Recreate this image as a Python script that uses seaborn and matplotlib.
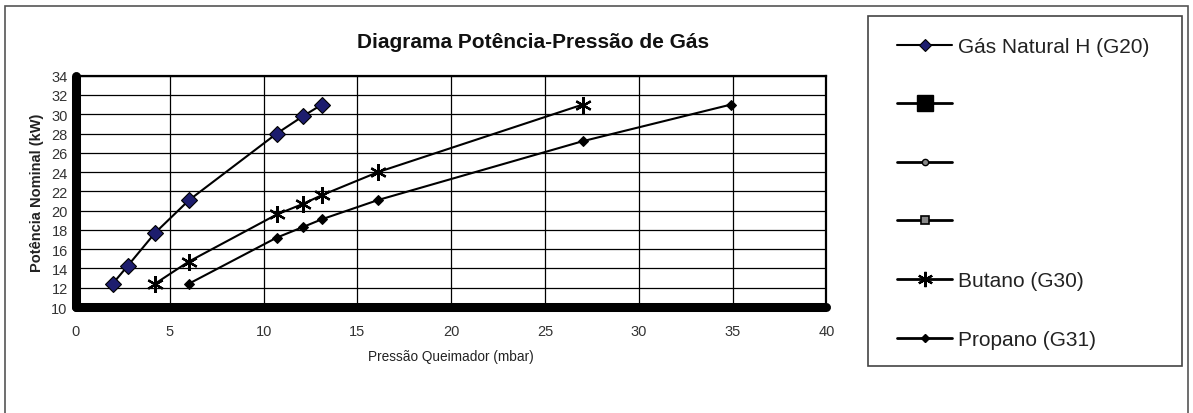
import matplotlib
matplotlib.use("Agg")
import matplotlib.pyplot as plt
import seaborn as sns
from matplotlib.lines import Line2D
from matplotlib.patches import Rectangle

# valores
g20_pressao = [1.95, 2.77, 4.22, 6.03, 10.7, 12.1, 13.1]
g20_potencia = [12.4, 14.3, 17.7, 21.1, 28.0, 29.8, 31.0]

g30_pressao = [4.2, 6.0, 10.7, 12.1, 13.1, 16.1, 27.0]
g30_potencia = [12.4, 14.7, 19.6, 20.7, 21.6, 24.0, 31.0]

g31_pressao = [6.0, 10.7, 12.1, 13.1, 16.1, 27.0, 34.9]
g31_potencia = [12.4, 17.2, 18.3, 19.1, 21.1, 27.2, 31.0]

x_ticks = [0, 5, 10, 15, 20, 25, 30, 35, 40]
y_ticks = list(range(10, 35, 2))

legend_labels = ["Gás Natural H (G20)", "", "", "", "Butano (G30)", "Propano (G31)"]

sns.set_style("white")
plt.rcParams['font.family'] = ['Liberation Sans', 'DejaVu Sans']

fig = plt.figure(figsize=(11.93, 4.14), dpi=100)
ax = fig.add_axes([0.0637, 0.256, 0.629, 0.5587])

asterisk = (6, 2, 0)

sns.lineplot(x=g20_pressao, y=g20_potencia, ax=ax, color="black", lw=1.5,
             marker="D", markersize=8.5, markerfacecolor="#1d1d6e",
             markeredgecolor="black", markeredgewidth=0.8, sort=False, zorder=5)
sns.lineplot(x=g30_pressao, y=g30_potencia, ax=ax, color="black", lw=1.5,
             marker=asterisk, markersize=12, markeredgecolor="black",
             markeredgewidth=1.6, sort=False, zorder=5)
sns.lineplot(x=g31_pressao, y=g31_potencia, ax=ax, color="black", lw=1.5,
             marker="D", markersize=5, markerfacecolor="black",
             markeredgecolor="black", sort=False, zorder=5)

ax.set_xlim(0, 40)
ax.set_ylim(10, 34)
ax.set_xticks(x_ticks)
ax.set_yticks(y_ticks)
ax.grid(True, color="black", lw=0.9)
ax.set_axisbelow(True)

for side in ["top", "right"]:
    ax.spines[side].set_linewidth(1.6)
    ax.spines[side].set_color("black")
for side in ["left", "bottom"]:
    ax.spines[side].set_linewidth(6.5)
    ax.spines[side].set_color("black")
    ax.spines[side].set_capstyle("round")

ax.tick_params(axis="both", which="major", length=4, width=5, color="black",
               labelsize=10.5, labelcolor="#333333", direction="out")
ax.tick_params(axis="x", pad=8)
ax.tick_params(axis="y", pad=2)

ax.set_xlabel("Pressão Queimador (mbar)", fontsize=9.8, color="#222222", labelpad=8)
ax.set_ylabel("Potência Nominal (kW)", fontsize=10.5, fontweight="bold",
              color="#222222", labelpad=5)

fig.text(0.447, 0.897, "Diagrama Potência-Pressão de Gás", ha="center", va="center",
         fontsize=15, fontweight="bold", color="#111111")

# moldura externa e caixa da legenda
fig.patches.append(Rectangle((5 / 1193, -0.05), 1183 / 1193, 1.05 - 7 / 414,
                             transform=fig.transFigure, fill=False,
                             edgecolor="#555555", lw=1.2))
fig.patches.append(Rectangle((868 / 1193, 1 - 367 / 414), 314 / 1193, 350 / 414,
                             transform=fig.transFigure, fill=False,
                             edgecolor="#444444", lw=1.2))

handles = [
    Line2D([], [], color="black", lw=1.5, marker="D", markersize=6.5,
           markerfacecolor="#1d1d6e", markeredgecolor="black", markeredgewidth=0.8),
    Line2D([], [], color="black", lw=2, marker="s", markersize=12,
           markerfacecolor="black", markeredgecolor="black"),
    Line2D([], [], color="black", lw=2, marker="o", markersize=4.5,
           markerfacecolor="#888888", markeredgecolor="black"),
    Line2D([], [], color="black", lw=2, marker="s", markersize=5.5,
           markerfacecolor="#888888", markeredgecolor="black", markeredgewidth=1.2),
    Line2D([], [], color="black", lw=2, marker=asterisk, markersize=11,
           markeredgecolor="black", markeredgewidth=1.6),
    Line2D([], [], color="black", lw=2, marker="D", markersize=4.5,
           markerfacecolor="black", markeredgecolor="black"),
]
fig.legend(handles, legend_labels, loc="upper left",
           bbox_to_anchor=(897 / 1193, 1 - 38 / 414), frameon=False,
           fontsize=15, handlelength=2.65, handletextpad=0.3,
           labelspacing=1.9, borderaxespad=0, borderpad=0, labelcolor="#222222")

fig.savefig("out.png", dpi=100, facecolor="white")
